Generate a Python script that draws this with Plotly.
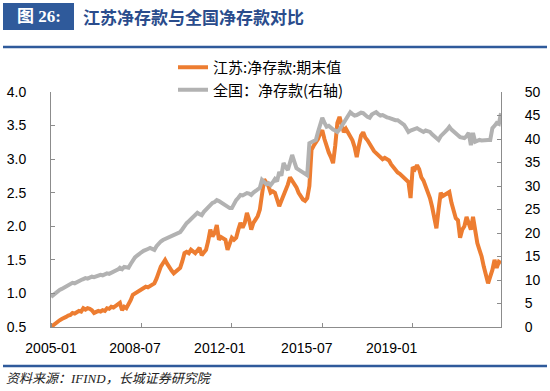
import plotly.graph_objects as go

# ---------------- data (monthly, 2005-01 .. 2022-06) ----------------
month_index = list(range(210))

jiangsu = [
    0.50, 0.53, 0.56, 0.58, 0.60, 0.62, 0.63, 0.65, 0.67, 0.68, 0.71, 0.70,   # 2005
    0.72, 0.74, 0.73, 0.78, 0.76, 0.78, 0.77, 0.75, 0.71, 0.72, 0.74, 0.73,   # 2006
    0.75, 0.74, 0.78, 0.77, 0.80, 0.79, 0.82, 0.84, 0.86, 0.75, 0.80, 0.78,   # 2007
    0.83, 0.90, 0.98, 1.00, 1.03, 1.05, 1.06, 1.08, 1.10, 1.09, 1.11, 1.12,   # 2008
    1.15, 1.22, 1.32, 1.40, 1.45, 1.50, 1.44, 1.38, 1.34, 1.30, 1.33, 1.35,   # 2009
    1.38, 1.48, 1.60, 1.62, 1.60, 1.65, 1.62, 1.60, 1.64, 1.68, 1.57, 1.62,   # 2010
    1.65, 1.78, 1.95, 1.85, 1.90, 2.02, 1.80, 1.84, 1.82, 1.80, 1.65, 1.75,   # 2011
    1.83, 1.80, 1.83, 1.95, 2.05, 1.98, 2.05, 2.20, 2.10, 1.95, 2.05, 2.10,   # 2012
    2.15, 2.25, 2.50, 2.70, 2.65, 2.60, 2.50, 2.52, 2.50, 2.40, 2.30, 2.38,   # 2013
    2.45, 2.54, 2.62, 2.73, 2.68, 2.65, 2.58, 2.50, 2.44, 2.40, 2.38, 2.42,   # 2014
    2.60, 3.14, 3.20, 3.24, 3.30, 3.38, 3.43, 3.30, 3.18, 3.10, 3.03, 2.94,   # 2015
    3.20, 3.54, 3.63, 3.50, 3.40, 3.45, 3.39, 3.32, 3.28, 3.18, 3.03, 3.20,   # 2016
    3.35, 3.40, 3.32, 3.28, 3.22, 3.18, 3.12, 3.09, 3.06, 3.04, 3.00, 3.02,   # 2017
    2.99, 2.98, 2.92, 2.88, 2.83, 2.80, 2.78, 2.75, 2.72, 2.68, 2.66, 2.42,   # 2018
    2.88, 2.85, 2.91, 2.85, 2.73, 2.68, 2.60, 2.54, 2.42, 2.29, 2.12, 1.97,   # 2019
    2.25, 2.50, 2.45, 2.47, 2.50, 2.51, 2.35, 2.20, 2.12, 2.09, 1.83, 1.95,   # 2020
    2.00, 2.14, 2.05, 1.95, 2.14, 1.90, 1.75, 1.65, 1.55, 1.40, 1.25, 1.15,   # 2021
    1.25, 1.35, 1.50, 1.38, 1.47, 1.45,                                       # 2022
]

national = [
    6.4, 6.8, 7.2, 7.5, 7.9, 8.1, 8.4, 8.6, 8.9, 9.1, 9.4, 9.3,               # 2005
    9.6, 9.8, 10.0, 10.2, 10.4, 10.3, 10.5, 10.7, 10.6, 10.8, 10.9, 11.1,     # 2006
    11.0, 11.2, 11.4, 11.3, 11.5, 11.7, 11.9, 12.2, 12.6, 12.3, 12.8, 12.6,   # 2007
    12.6, 13.4, 14.3, 14.8, 15.2, 15.7, 15.9, 16.2, 16.5, 16.6, 16.8, 16.5,   # 2008
    16.4, 17.2, 17.8, 18.2, 18.5, 18.7, 18.9, 19.2, 19.4, 19.6, 19.8, 20.0,   # 2009
    20.2, 20.8, 21.5, 22.1, 22.5, 22.9, 23.3, 23.8, 24.3, 24.0, 23.8, 24.5,   # 2010
    25.0, 25.5, 26.0, 26.4, 26.6, 27.0, 26.8, 26.5, 26.4, 26.0, 25.6, 25.3,   # 2011
    25.3, 26.2, 27.0, 27.5, 28.1, 28.0, 28.3, 28.5, 28.4, 28.1, 28.6, 29.0,   # 2012
    29.3, 29.6, 31.3, 30.8, 30.4, 30.6, 30.2, 30.8, 31.5, 31.0, 33.0, 32.2,   # 2013
    34.9, 34.0, 33.4, 35.0, 36.6, 35.2, 33.8, 33.5, 33.2, 33.0, 32.6, 32.3,   # 2014
    39.1, 39.3, 39.5, 39.8, 41.5, 43.4, 44.5, 43.5, 42.6, 42.8, 42.3, 42.0,   # 2015
    41.8, 41.5, 42.0, 42.8, 43.6, 44.5, 45.2, 45.7, 45.3, 45.0, 45.1, 45.3,   # 2016
    45.6, 45.5, 45.0, 44.7, 44.5, 45.2, 45.5, 45.7, 45.3, 45.0, 45.1, 44.8,   # 2017
    44.6, 44.5, 44.3, 44.2, 44.0, 44.0, 43.7, 43.3, 43.0, 42.3, 41.5, 41.8,   # 2018
    42.0, 42.2, 42.3, 42.0, 41.7, 41.5, 41.8, 41.6, 41.5, 41.0, 40.6, 40.4,   # 2019
    39.8, 40.6, 41.2, 41.5, 42.0, 42.6, 42.0, 41.5, 41.2, 40.8, 40.4, 40.3,   # 2020
    40.2, 40.6, 41.3, 38.7, 41.3, 39.4, 39.6, 39.8, 39.7, 39.8, 39.9, 39.8,   # 2021
    39.8, 42.3, 42.8, 43.4, 43.2, 45.5,                                       # 2022
]

tick_labels = ["2005-01", "2008-07", "2012-01", "2015-07", "2019-01"]
tick_mark_pos = [0, 42, 84, 126, 168]
label_pos = [0.0, 39.0, 78.4, 118.8, 158.2]

name_js = "江苏:净存款:期末值"
name_cn = "全国：净存款(右轴)"

ORANGE = "#ED7D31"
GREY = "#B2B2B2"
BLUE = "#2F5A9B"
AXIS = "#8C8C8C"
FONT = "Liberation Sans, Arial, Noto Sans CJK SC, sans-serif"
CJK = "Noto Sans CJK SC, sans-serif"

W, H = 550, 391
L, R, T, B = 51, 49, 92, 64
PW, PH = W - L - R, H - T - B


def px(x):
    return (x - L) / PW


def py(y):
    return (H - B - y) / PH


fig = go.Figure()
fig.add_trace(go.Scatter(x=month_index, y=jiangsu, name=name_js, mode="lines",
                         line=dict(color=ORANGE, width=4), yaxis="y"))
fig.add_trace(go.Scatter(x=month_index, y=national, name=name_cn, mode="lines",
                         line=dict(color=GREY, width=4), yaxis="y2"))

fig.update_layout(
    width=W, height=H,
    margin=dict(l=L, r=R, t=T, b=B, autoexpand=False),
    paper_bgcolor="white", plot_bgcolor="white",
    font=dict(family=FONT, size=14, color="black"),
    showlegend=True,
    legend=dict(x=px(173), y=py(51), xanchor="left", yanchor="top",
                bgcolor="rgba(0,0,0,0)", font=dict(family=CJK, size=15, color="black"),
                tracegroupgap=0),
    xaxis=dict(range=[0, 209], showgrid=False, zeroline=False, automargin=False,
               showline=True, linecolor=AXIS, linewidth=1,
               tickmode="array", tickvals=label_pos, ticktext=tick_labels,
               ticks="", ticklabelstandoff=8,
               tickfont=dict(family=FONT, size=14),
               minor=dict(tickmode="array", tickvals=tick_mark_pos, ticks="inside",
                          ticklen=4, tickcolor=AXIS, showgrid=False)),
    yaxis=dict(range=[0.5, 4.0], dtick=0.5, tickformat=".1f", showgrid=False,
               zeroline=False, showline=True, linecolor=AXIS, linewidth=1, automargin=False,
               ticks="inside", ticklen=4, tickcolor=AXIS, ticklabelstandoff=21,
               tickfont=dict(family=FONT, size=14)),
    yaxis2=dict(range=[0, 50], dtick=5, overlaying="y", side="right", automargin=False,
                showgrid=False, zeroline=False, showline=True, linecolor=AXIS,
                linewidth=1, ticks="inside", ticklen=4, tickcolor=AXIS,
                ticklabelstandoff=20, tickfont=dict(family=FONT, size=14)),
)

shapes = [
    dict(type="rect", xref="paper", yref="paper", x0=px(3), x1=px(74), y0=py(30), y1=py(3),
         fillcolor=BLUE, line=dict(width=0), layer="above"),
    dict(type="line", xref="paper", yref="paper", x0=px(3), x1=px(547), y0=py(47), y1=py(47),
         line=dict(color=BLUE, width=2.5)),
    dict(type="line", xref="paper", yref="paper", x0=px(3), x1=px(547), y0=py(366), y1=py(366),
         line=dict(color=BLUE, width=2.5)),
]
fig.update_layout(shapes=shapes)

fig.add_annotation(text="<b>图 26:</b>", xref="paper", yref="paper", x=px(38.5), y=py(16.5),
                   xanchor="center", yanchor="middle", showarrow=False,
                   font=dict(family="Liberation Serif, Noto Sans CJK SC, serif", size=17, color="white"))
fig.add_annotation(text="<b>江苏净存款与全国净存款对比</b>", xref="paper", yref="paper",
                   x=px(81), y=py(16.5), xanchor="left", yanchor="middle", showarrow=False,
                   font=dict(family=CJK, size=17, color="#2A4C8C"))
fig.add_annotation(text="<i>资料来源：IFIND，长城证券研究院</i>", xref="paper", yref="paper",
                   x=px(4), y=py(378), xanchor="left", yanchor="middle", showarrow=False,
                   font=dict(family="Liberation Serif, Noto Sans CJK SC, serif", size=13, color="#222222"))

# remove the browser's default 8px body margin so the figure sits at the window origin
fig.write_html("out.html", config={"displayModeBar": False},
               post_script="document.body.style.margin='0';")
